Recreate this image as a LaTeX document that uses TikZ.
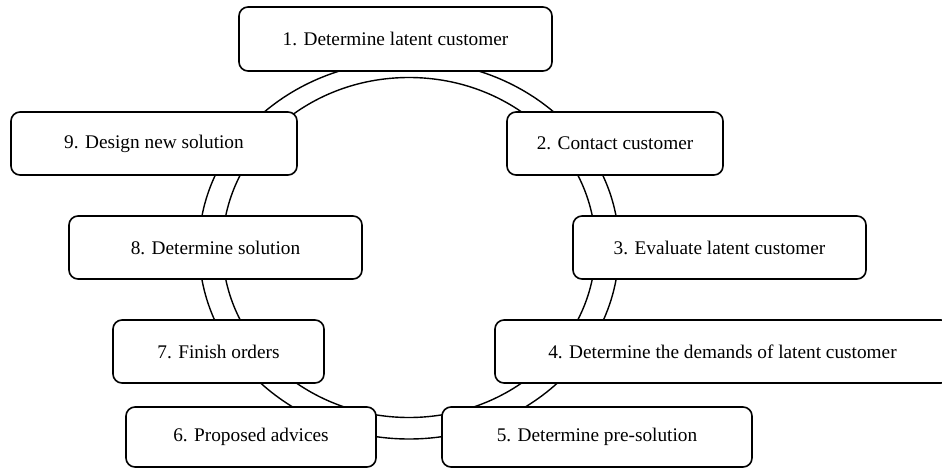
\documentclass[tikz,border=0pt]{standalone}
\usepackage{fontspec}
\setmainfont{Liberation Serif}
\begin{document}
\begin{tikzpicture}[x=1pt,y=-1pt,
  stepbox/.style={draw=black, line width=1.6pt, fill=white, rounded corners=9pt,
    inner sep=0pt, font=\fontsize{19.3}{21}\selectfont, align=center},
  ringline/.style={draw=black, line width=1.4pt}]
\useasboundingbox (0,0) rectangle (942,468);
\fill[white] (0,0) rectangle (942,468);
% ring
\coordinate (rc) at (409,247.5);
\draw[ringline] ([xshift=210pt]rc) arc[start angle=0, end angle=-180, x radius=210, y radius=187]
  arc[start angle=-180, end angle=-360, x radius=210, y radius=191.5];
\draw[ringline] (rc) ellipse[x radius=186.5, y radius=170];
% boxes
\node[stepbox, minimum width=313pt, minimum height=64pt] (b1) at (395.5,39) {1. Determine latent customer};
\node[stepbox, minimum width=216pt, minimum height=63pt] (b2) at (615,143.5) {2. Contact customer};
\node[stepbox, minimum width=293pt, minimum height=63pt] (b3) at (719.5,247.5) {3. Evaluate latent customer};
\node[stepbox, minimum width=455pt, minimum height=63pt] (b4) at (722.5,351.5) {4. Determine the demands of latent customer};
\node[stepbox, minimum width=310pt, minimum height=60pt] (b5) at (597,437) {5. Determine pre-solution};
\node[stepbox, minimum width=250pt, minimum height=60pt] (b6) at (251,437) {6. Proposed advices};
\node[stepbox, minimum width=211pt, minimum height=63pt] (b7) at (218.5,351.5) {7. Finish orders};
\node[stepbox, minimum width=293pt, minimum height=63pt] (b8) at (215.5,247.5) {8. Determine solution};
\node[stepbox, minimum width=286pt, minimum height=63pt] (b9) at (154,143.5) {9. Design new solution};
\end{tikzpicture}
\end{document}
